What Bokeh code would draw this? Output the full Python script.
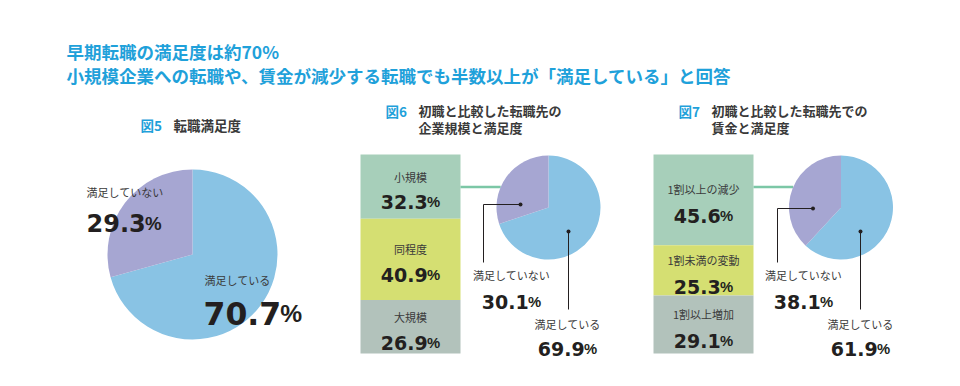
import math
from bokeh.plotting import figure
from bokeh.models import Range1d
from bokeh.core.properties import value
from bokeh.embed import file_html
from bokeh.resources import INLINE

# ---------------- data ----------------
title_lines = ["早期転職の満足度は約70%",
               "小規模企業への転職や、賃金が減少する転職でも半数以上が「満足している」と回答"]
pie_labels = ["満足している", "満足していない"]

fig5_tag = "図5"
fig5_title = ["転職満足度"]
fig5_pie = [70.7, 29.3]

fig6_tag = "図6"
fig6_title = ["初職と比較した転職先の", "企業規模と満足度"]
fig6_categories = ["小規模", "同程度", "大規模"]
fig6_shares = [32.3, 40.9, 26.9]
fig6_pie = [69.9, 30.1]

fig7_tag = "図7"
fig7_title = ["初職と比較した転職先での", "賃金と満足度"]
fig7_categories = ["1割以上の減少", "1割未満の変動", "1割以上増加"]
fig7_shares = [45.6, 25.3, 29.1]
fig7_pie = [61.9, 38.1]

# ---------------- style ----------------
BLUE_T = "#1fa1da"
DARK = "#231f20"
LABEL = "#3a3a3a"
PIE_COLS = ["#89c3e4", "#a6a6d2"]
BAR_COLS = ["#a7cfba", "#d5df72", "#b2c2bb"]
CONNECT = "#7cc7a6"
JP = value("Noto Sans CJK JP")
NUMF = value("DejaVu Sans")
PCTF = value("Liberation Sans")

W, H = 944, 370
OX, OY = 0, 0


def Y(py):
    return OY + H - py


p = figure(width=W, height=H, output_backend="svg", toolbar_location=None,
           x_range=Range1d(OX, OX + W), y_range=Range1d(0, H),
           x_axis_type=None, y_axis_type=None, min_border=0)
p.outline_line_color = None
p.background_fill_color = "white"
p.border_fill_color = "white"
p.grid.visible = False

BAR_TOP_PX, BAR_BOT_PX = 154, 353


def bar_range(total):
    scale = (BAR_BOT_PX - BAR_TOP_PX) / total
    y0 = Y(BAR_BOT_PX)
    return Range1d(start=(0 - y0) / scale, end=(H - y0) / scale)


p.extra_y_ranges = {"b6": bar_range(sum(fig6_shares)), "b7": bar_range(sum(fig7_shares))}


def jtext(x, y, s, size=11, color=LABEL, align="left", bold=False, y_off=0, yr="default"):
    p.text(x=[x], y=[y], text=[s], text_font=JP, text_font_size=f"{size}px",
           text_color=color, text_align=align, text_baseline="middle",
           text_font_style="bold" if bold else "normal", y_offset=y_off, y_range_name=yr)


def draw_pct(x, y, v, size, align="center", y_off=0, yr="default"):
    s = f"{v:.1f}"
    dw = sum(0.380 if ch == "." else 0.696 for ch in s) * size
    psize = size * 0.78
    pw = 0.889 * psize
    gap = -0.03 * size
    total = dw + gap + pw
    start = -total / 2 if align == "center" else 0
    base = y_off + 0.36 * size
    p.text(x=[x], y=[y], text=[s], x_offset=start, y_offset=base, text_align="left",
           text_baseline="alphabetic", text_font=NUMF, text_font_style="bold",
           text_font_size=f"{size}px", text_color=DARK, y_range_name=yr)
    p.text(x=[x], y=[y], text=["%"], x_offset=start + dw + gap, y_offset=base,
           text_align="left", text_baseline="alphabetic", text_font=PCTF,
           text_font_style="bold", text_font_size=f"{psize:.1f}px", text_color=DARK,
           y_range_name=yr)


def pie(cx, cy_px, r, vals):
    total = sum(vals)
    a0 = math.pi / 2
    starts, ends = [], []
    acc = 0
    for v in vals:
        starts.append(a0 - 2 * math.pi * acc / total)
        acc += v
        ends.append(a0 - 2 * math.pi * acc / total)
    p.wedge(x=[cx] * len(vals), y=[Y(cy_px)] * len(vals), radius=r,
            start_angle=starts, end_angle=ends, direction="clock",
            fill_color=PIE_COLS[:len(vals)], line_color=None)


# ---------------- headline ----------------
for i, line in enumerate(title_lines):
    jtext(66, Y(50.5 + 24 * i), line, size=17.5, color=BLUE_T, bold=True)

# ---------------- figure 5 ----------------
jtext(140, Y(124), fig5_tag, size=13.5, color=BLUE_T, bold=True)
jtext(173, Y(124), fig5_title[0], size=13.5, color=LABEL, bold=True)
pie(192, 254, 85, fig5_pie)
jtext(86, Y(191), pie_labels[1], size=11)
draw_pct(86, Y(214), fig5_pie[1], 24, align="left")
jtext(204, Y(279), pie_labels[0], size=11)
draw_pct(203, Y(302), fig5_pie[0], 31.5, align="left")


# ---------------- stacked bar + pie panels ----------------
def panel(tag, title, tag_x, text_x, bar_cx, cats, shares, yr, pie_cx, pie_vals,
          lab_off, num_off, dot_un, dot_sat, un_line_x, un_line_end, sat_line_end,
          un_lab_cx, sat_lab_cx):
    jtext(tag_x, Y(110), tag, size=13.5, color=BLUE_T, bold=True)
    for i, t in enumerate(title):
        jtext(text_x, Y(110 + 17 * i), t, size=13, color=LABEL, bold=True)
    total = sum(shares)
    tops, bots = [], []
    acc = 0
    for v in shares:
        tops.append(total - acc)
        acc += v
        bots.append(total - acc)
    p.vbar(x=[bar_cx] * len(shares), width=100, top=tops, bottom=bots,
           fill_color=BAR_COLS, line_color=None, y_range_name=yr)
    # connector
    pr = 52
    cy = 207
    conn_y = 186.5
    dx = math.sqrt(pr ** 2 - (cy - conn_y) ** 2)
    p.line(x=[bar_cx + 50, pie_cx - dx], y=[Y(conn_y), Y(conn_y)], line_color=CONNECT, line_width=2.5)
    pie(pie_cx, cy, pr, pie_vals)
    for c, v, t, b in zip(cats, shares, tops, bots):
        mid = (t + b) / 2
        jtext(bar_cx, mid, c, size=11, align="center", y_off=lab_off, yr=yr)
        draw_pct(bar_cx, mid, v, 19, y_off=num_off, yr=yr)
    # leader lines
    ux, uy = pie_cx + dot_un[0], cy + dot_un[1]
    sx, sy = pie_cx + dot_sat[0], cy + dot_sat[1]
    p.line(x=[ux, un_line_x, un_line_x], y=[Y(uy), Y(uy), Y(un_line_end)], line_color=DARK, line_width=1)
    p.line(x=[sx, sx], y=[Y(sy), Y(sat_line_end)], line_color=DARK, line_width=1)
    p.scatter(x=[ux, sx], y=[Y(uy), Y(sy)], size=4, fill_color=DARK, line_color=None)
    jtext(un_lab_cx, Y(274), pie_labels[1], size=11, align="center")
    draw_pct(un_lab_cx, Y(294.5), pie_vals[1], 19)
    jtext(sat_lab_cx, Y(323), pie_labels[0], size=11, align="center")
    draw_pct(sat_lab_cx, Y(342), pie_vals[0], 19)


panel(fig6_tag, fig6_title, 385, 418, 410, fig6_categories, fig6_shares, "b6", 548, fig6_pie,
      -10, 9, (-28, -3), (20, 24), 483, 262, 309, 511, 567)
panel(fig7_tag, fig7_title, 678, 711, 703, fig7_categories, fig7_shares, "b7", 840.5, fig7_pie,
      -10.5, 9.5, (-28, 1), (19.5, 24), 777, 262, 309, 803, 860)

open("out.html", "w").write(file_html(p, INLINE))
